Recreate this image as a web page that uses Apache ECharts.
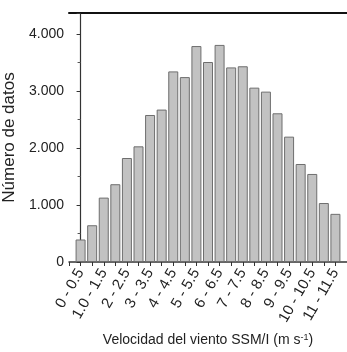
<!DOCTYPE html>
<html>
<head>
<meta charset="utf-8">
<script src="https://cdn.jsdelivr.net/npm/echarts@6/dist/echarts.min.js"></script>
<style>
	html, body { margin: 0; padding: 0; background: #fff; }
	#main { width: 347px; height: 352px; }
</style>
</head>
<body>
<div id="main"></div>
<script>
	// intervalos de velocidad (m s-1)
	var bins = ['0 - 0.5', '0.5 - 1', '1.0 - 1.5', '1.5 - 2', '2 - 2.5', '2.5 - 3',
		'3 - 3.5', '3.5 - 4', '4 - 4.5', '4.5 - 5', '5 - 5.5', '5.5 - 6',
		'6 - 6.5', '6.5 - 7', '7 - 7.5', '7.5 - 8', '8 - 8.5', '8.5 - 9',
		'9 - 9.5', '9.5 - 10', '10 - 10.5', '10.5 - 11', '11 - 11.5']
	var counts = [395, 645, 1130, 1365, 1825, 2030, 2580, 2675, 3345, 3245, 3790, 3510,
		3810, 3415, 3435, 3060, 2990, 2610, 2200, 1720, 1545, 1035, 845]
	var yTicks = [0, 1000, 2000, 3000, 4000]

	var barData = counts.map(function (v, i) { return [i, v] })

	var myChart = echarts.init(document.getElementById('main'))
	var font = 'Liberation Sans, Arial, sans-serif'

	var option = {
		animation: false,
		backgroundColor: '#fff',
		grid: { left: 69, top: 13, right: 0, bottom: 90, containLabel: false, outerBoundsMode: 'none' },
		xAxis: [
			{
				type: 'value',
				min: -1,
				max: bins.length,
				interval: 1,
				splitLine: { show: false },
				axisLine: { lineStyle: { color: '#333', width: 1.5 } },
				axisTick: { inside: false, length: 4, lineStyle: { color: '#333' } },
				axisLabel: {
					rotate: 60,
					fontSize: 15,
					fontFamily: font,
					color: '#222',
					margin: 8,
					showMinLabel: true,
					showMaxLabel: true,
					hideOverlap: false,
					formatter: function (v) {
						if (v >= 0 && v < bins.length && v % 2 === 0) return bins[v]
						return ''
					}
				},
				name: '{a|Velocidad del viento SSM/I (m s}{sup|-1}{a|)}',
				nameLocation: 'middle',
				nameGap: 70,
				nameTextStyle: {
					rich: {
						a: { fontSize: 14, fontFamily: font, color: '#222' },
						sup: { fontSize: 9, fontFamily: font, color: '#222', verticalAlign: 'top', padding: [0, 0, 6, 0] }
					}
				}
			},
			{
				type: 'value',
				position: 'top',
				min: -1,
				max: bins.length,
				axisLine: { show: true, lineStyle: { color: '#111', width: 2 } },
				axisTick: { show: false },
				axisLabel: { show: false },
				splitLine: { show: false }
			}
		],
		yAxis: {
			type: 'value',
			min: 0,
			max: 4370,
			interval: 1000,
			splitLine: { show: false },
			axisLine: { show: true, lineStyle: { color: '#333', width: 1.2 } },
			axisTick: { show: true, length: 4, lineStyle: { color: '#333' } },
			minorTick: { show: true, splitNumber: 2, length: 3, lineStyle: { color: '#555' } },
			axisLabel: {
				fontSize: 14,
				fontFamily: font,
				color: '#222',
				margin: 5,
				showMaxLabel: false,
				formatter: function (v) {
					if (yTicks.indexOf(v) < 0) return ''
					return v === 0 ? '0' : (v / 1000) + '.000'
				}
			},
			name: 'Número de datos',
			nameLocation: 'middle',
			nameGap: 43,
			nameTextStyle: { fontSize: 17, fontFamily: font, color: '#222' }
		},
		series: [
			{
				type: 'bar',
				data: barData,
				barWidth: 10,
				itemStyle: { color: '#c2c2c2', borderColor: '#6e6e6e', borderWidth: 1 }
			}
		]
	}

	myChart.setOption(option)
</script>
</body>
</html>
